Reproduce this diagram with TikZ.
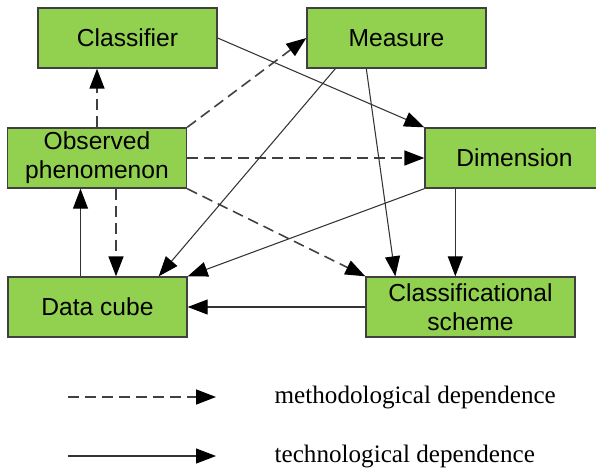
\documentclass[tikz,border=0pt]{standalone}
\usepackage{fontspec}
\setmainfont{Liberation Serif}
\newfontfamily\boxfont{Liberation Sans}
\usetikzlibrary{arrows.meta, positioning, calc}
\definecolor{boxgreen}{RGB}{146,208,80}
\definecolor{edgegray}{RGB}{64,64,64}

\begin{document}
\begin{tikzpicture}[
      x=0.02cm, y=-0.02cm,
      box/.style={rectangle, draw=edgegray, line width=0.8pt, fill=boxgreen,
                  minimum width=3.58cm, minimum height=1.2cm, inner sep=0pt,
                  font=\boxfont\fontsize{14}{16.5}\selectfont, align=center},
      tip/.style={-{Triangle[length=0.4cm, width=0.3cm, color=black]}},
      tech/.style={tip, line width=0.6pt, draw=black!80},
      meth/.style={tip, line width=0.9pt, draw=black!75, dash pattern=on 0.22cm off 0.12cm},
      legend/.style={anchor=west, font=\fontsize{14.3}{17}\selectfont}
    ]
    \clip (0,0) rectangle (596,468);
    \node[box] (cls) at (127.5,38) {Classifier};
    \node[box] (meas) at (396.5,38) {Measure};
    \node[box] (obs) at (97,158) {Observed\\phenomenon};
    \node[box] (dim) at (514.5,158) {Dimension};
    \node[box] (cube) at (97.5,307) {Data cube};
    \node[box, minimum width=4.18cm] (scheme) at (470.5,307) {Classificational\\scheme};

    \coordinate (obsout) at ($(obs.south)+(19,0)$);
    \coordinate (cubeout) at ($(cube.north)+(-17,0)$);
    \coordinate (dimout) at ($(dim.south west)+(31,0)$);

    \draw[meth] (obs.north) -- (obs.north |- cls.south);
    \draw[meth] (obs.north east) -- (meas.west);
    \draw[meth] (obs.east) -- (dim.west);
    \draw[meth] (obsout) -- (obsout |- cube.north);
    \draw[meth] (obs.south east) -- (scheme.north west);
    \draw[tech] (cubeout) -- (cubeout |- obs.south);
    \draw[tech] (cls.east) -- (dim.north west);
    \draw[tech] ($(meas.south west)+(29,0)$) -- ($(cube.north east)+(-29,0)$);
    \draw[tech] ($(meas.south west)+(60,0)$) -- ($(scheme.north west)+(30,0)$);
    \draw[tech] (dim.south west) -- (cube.north east);
    \draw[tech] (dimout) -- (dimout |- scheme.north);
    \draw[tech] (scheme.west) -- (cube.east);

    \coordinate (m0) at (68,397);
    \coordinate (m1) at (216,397);
    \coordinate (t0) at (68,456);
    \coordinate (t1) at (216,456);
    \draw[meth] (m0) -- (m1);
    \draw[tech] (t0) -- (t1);
    \node[legend, right=1.05cm of m1] (mlab) {methodological dependence};
    \node[legend, right=1.05cm of t1] (tlab) {technological dependence};
  \end{tikzpicture}
\end{document}
